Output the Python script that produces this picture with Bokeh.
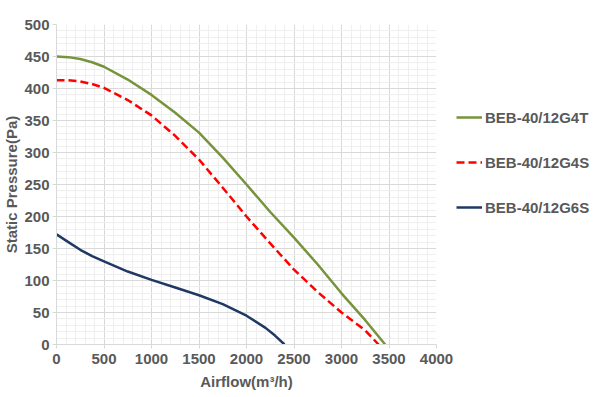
from bokeh.plotting import figure
from bokeh.models import SingleIntervalTicker, Legend, LegendItem, Range1d
from bokeh.embed import file_html
from bokeh.resources import INLINE

# Data
airflow_g4t = [0, 125, 250, 375, 500, 750, 1000, 1250, 1500, 1750, 2000, 2250, 2500, 2750, 3000, 3250, 3460]
press_g4t = [450, 449, 446, 441, 434, 414, 390, 362, 331, 292, 250, 207, 167, 125, 80, 38, 0]
airflow_g4s = [0, 125, 250, 375, 500, 750, 1000, 1250, 1500, 1750, 2000, 2250, 2500, 2750, 3000, 3250, 3390]
press_g4s = [413, 413, 411, 407, 401, 382, 358, 326, 289, 245, 200, 158, 117, 82, 50, 22, 0]
airflow_g6s = [0, 125, 250, 375, 500, 750, 1000, 1250, 1500, 1750, 2000, 2200, 2300, 2400]
press_g6s = [172, 160, 148, 138, 130, 114, 101, 89, 77, 63, 45, 26, 14, 0]
labels = ["BEB-40/12G4T", "BEB-40/12G4S", "BEB-40/12G6S"]

FONT = "Liberation Sans"
TXT = "#595959"

p = figure(frame_width=380, frame_height=320, output_backend="svg", toolbar_location=None,
           x_range=Range1d(0, 4000), y_range=Range1d(0, 500),
           min_border_left=50, min_border_right=0, min_border_top=24, min_border_bottom=44)
p.outline_line_color = None

p.xaxis.ticker = SingleIntervalTicker(interval=500, num_minor_ticks=5)
p.yaxis.ticker = SingleIntervalTicker(interval=50, num_minor_ticks=5)
for ax in (p.xaxis, p.yaxis):
    ax.axis_line_color = "#d9d9d9"
    ax.major_tick_line_color = "#d9d9d9"
    ax.major_tick_out = 4
    ax.major_tick_in = 0
    ax.minor_tick_line_color = None
    ax.major_label_text_font = FONT
    ax.major_label_text_font_size = "15px"
    ax.major_label_text_font_style = "bold"
    ax.major_label_text_color = TXT
    ax.axis_label_text_font = FONT
    ax.axis_label_text_font_size = "15px"
    ax.axis_label_text_font_style = "bold"
    ax.axis_label_text_color = TXT
p.xaxis.axis_label = "Airflow(m³/h)"
p.yaxis.axis_label = "Static Pressure(Pa)"
p.xaxis.major_label_standoff = 5
p.yaxis.major_label_standoff = 3
p.xaxis.axis_label_standoff = 6
p.yaxis.axis_label_standoff = 1

p.grid.grid_line_color = "#d9d9d9"
p.grid.minor_grid_line_color = "#efefef"

r1 = p.line(airflow_g4t, press_g4t, line_color="#77933c", line_width=2.5)
r2 = p.line(airflow_g4s, press_g4s, line_color="#ff0000", line_width=2.5, line_dash="8 4")
r3 = p.line(airflow_g6s, press_g6s, line_color="#1f3864", line_width=2.5)

legend = Legend(items=[LegendItem(label=labels[0], renderers=[r1]),
                       LegendItem(label=labels[1], renderers=[r2]),
                       LegendItem(label=labels[2], renderers=[r3])],
                location=(20, 127), border_line_color=None, background_fill_alpha=0,
                padding=0, margin=0, spacing=25, glyph_width=26, glyph_height=20,
                label_height=20, label_standoff=3,
                label_text_font=FONT, label_text_font_size="15px",
                label_text_color=TXT, label_text_font_style="bold")
p.add_layout(legend, "right")

open("out.html", "w").write(file_html(p, INLINE))
